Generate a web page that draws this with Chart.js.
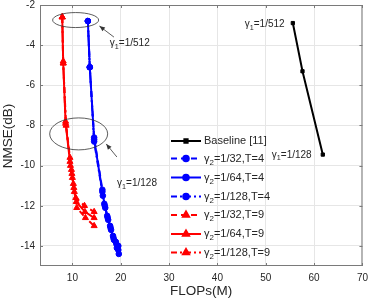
<!DOCTYPE html>
<html>
<head>
<meta charset="utf-8">
<script src="https://cdn.jsdelivr.net/npm/chart.js@4.4.1/dist/chart.umd.min.js"></script>
<style>
  html, body { margin: 0; padding: 0; background: #fff; }
  #wrap { width: 374px; height: 301px; position: relative; }
</style>
</head>
<body>
<div id="wrap"><canvas id="myChart"></canvas></div>
<script>
const FONT = '"Liberation Sans", Arial, sans-serif';
const TEXT = '#262626';

const xTicks = [10, 20, 30, 40, 50, 60, 70];
const yTicks = [-14, -12, -10, -8, -6, -4, -2];

const baselineFlops = [55.6, 57.6, 61.8];
const baselineNmse = [-2.9, -5.3, -9.45];

const t4g32Flops = [13.2, 13.6, 14.5, 16.2, 16.6, 17.2, 17.8, 18.4, 19.0, 19.5];
const t4g32Nmse = [-2.8, -5.1, -8.6, -11.2, -11.9, -12.5, -13.0, -13.5, -13.8, -14.0];
const t4g64Flops = [13.2, 13.6, 14.5, 16.2, 16.7, 17.3, 17.9, 18.5, 19.1, 19.5];
const t4g64Nmse = [-2.8, -5.1, -8.7, -11.3, -12.0, -12.6, -13.1, -13.6, -13.9, -14.2];
const t4g128Flops = [13.2, 13.6, 14.5, 16.3, 16.8, 17.4, 18.0, 18.6, 19.2, 19.6];
const t4g128Nmse = [-2.8, -5.1, -8.8, -11.5, -12.1, -12.7, -13.2, -13.7, -14.1, -14.4];

const t9g32Flops = [7.9, 8.1, 8.6, 9.5, 9.8, 10.2, 10.7, 12.5, 14.5];
const t9g32Nmse = [-2.6, -4.8, -7.8, -9.6, -10.2, -10.9, -11.6, -12.0, -12.3];
const t9g64Flops = [7.9, 8.1, 8.6, 9.5, 9.9, 10.3, 10.8, 12.6, 14.5];
const t9g64Nmse = [-2.6, -4.9, -7.9, -9.8, -10.4, -11.1, -11.8, -12.3, -12.6];
const t9g128Flops = [7.9, 8.1, 8.7, 9.6, 10.0, 10.4, 10.9, 12.7, 14.5];
const t9g128Nmse = [-2.6, -4.9, -8.0, -10.0, -10.6, -11.3, -12.1, -12.6, -13.0];

function points(xs, ys) {
  return xs.map((x, i) => ({ x, y: ys[i] }));
}

function series(label, sub, rest, xs, ys, color, dash, pointStyle, radius) {
  return {
    label,
    sub,
    rest,
    data: points(xs, ys),
    borderColor: color,
    backgroundColor: color,
    pointBackgroundColor: color,
    pointBorderColor: color,
    borderWidth: 2,
    borderDash: dash,
    pointStyle,
    pointRadius: radius,
    pointBorderWidth: 1,
    showLine: true,
    tension: 0,
  };
}

const datasets = [
  series('Baseline [11]', null, null, baselineFlops, baselineNmse, '#000000', [], 'rect', 2.3),
  series('g2=1/32,T=4', '2', '=1/32,T=4', t4g32Flops, t4g32Nmse, '#0000ff', [6, 4], 'circle', 2.8),
  series('g2=1/64,T=4', '2', '=1/64,T=4', t4g64Flops, t4g64Nmse, '#0000ff', [], 'circle', 2.8),
  series('g2=1/128,T=4', '2', '=1/128,T=4', t4g128Flops, t4g128Nmse, '#0000ff', [6, 3, 2, 3], 'circle', 2.8),
  series('g2=1/32,T=9', '2', '=1/32,T=9', t9g32Flops, t9g32Nmse, '#ff0000', [6, 4], 'triangle', 3.5),
  series('g2=1/64,T=9', '2', '=1/64,T=9', t9g64Flops, t9g64Nmse, '#ff0000', [], 'triangle', 3.5),
  series('g2=1/128,T=9', '2', '=1/128,T=9', t9g128Flops, t9g128Nmse, '#ff0000', [6, 3, 2, 3], 'triangle', 3.5),
];

function gammaText(ctx, x, y, sub, rest, size, align) {
  const normal = `${size}px ${FONT}`;
  const small = `${size * 0.72}px ${FONT}`;
  ctx.font = normal;
  const wG = ctx.measureText('γ').width;
  const wR = ctx.measureText(rest).width;
  ctx.font = small;
  const wS = ctx.measureText(sub).width;
  const x0 = align === 'right' ? x - (wG + wS + wR) : x;
  ctx.textAlign = 'left';
  ctx.textBaseline = 'middle';
  ctx.font = normal;
  ctx.fillText('γ', x0, y);
  ctx.font = small;
  ctx.fillText(sub, x0 + wG, y + size * 0.35);
  ctx.font = normal;
  ctx.fillText(rest, x0 + wG + wS, y);
}

function arrow(ctx, x1, y1, x2, y2) {
  const a = Math.atan2(y2 - y1, x2 - x1);
  const h = 6;
  ctx.beginPath();
  ctx.moveTo(x1, y1);
  ctx.lineTo(x2, y2);
  ctx.stroke();
  ctx.beginPath();
  ctx.moveTo(x2, y2);
  ctx.lineTo(x2 - h * Math.cos(a - 0.4), y2 - h * Math.sin(a - 0.4));
  ctx.lineTo(x2 - h * Math.cos(a + 0.4), y2 - h * Math.sin(a + 0.4));
  ctx.closePath();
  ctx.fill();
}

const decorations = {
  id: 'decorations',
  afterDatasetsDraw(chart) {
    const { ctx, chartArea: area, scales: { x, y } } = chart;
    ctx.save();

    // annotation ellipses
    ctx.strokeStyle = '#333';
    ctx.fillStyle = '#333';
    ctx.lineWidth = 0.8;
    ctx.beginPath();
    ctx.ellipse(x.getPixelForValue(10.67), y.getPixelForValue(-2.75), 23, 7.5, 0, 0, Math.PI * 2);
    ctx.stroke();
    ctx.beginPath();
    ctx.ellipse(x.getPixelForValue(11.3), y.getPixelForValue(-8.42), 29, 16, 0, 0, Math.PI * 2);
    ctx.stroke();

    arrow(ctx, x.getPixelForValue(18.6), y.getPixelForValue(-3.6), x.getPixelForValue(15.6), y.getPixelForValue(-3.05));
    arrow(ctx, x.getPixelForValue(19.2), y.getPixelForValue(-9.57), x.getPixelForValue(17.0), y.getPixelForValue(-8.92));

    ctx.fillStyle = TEXT;
    gammaText(ctx, x.getPixelForValue(17.75), y.getPixelForValue(-3.9), '1', '=1/512', 10, 'left');
    gammaText(ctx, x.getPixelForValue(19.25), y.getPixelForValue(-10.87), '1', '=1/128', 10, 'left');
    gammaText(ctx, x.getPixelForValue(53.9), y.getPixelForValue(-2.95), '1', '=1/512', 10, 'right');
    gammaText(ctx, x.getPixelForValue(59.5), y.getPixelForValue(-9.47), '1', '=1/128', 10, 'right');

    // legend
    const lx0 = 171, lx1 = 201, tx = 204;
    const rows = [141, 158.5, 177.5, 196.5, 215, 234, 252.5];
    chart.data.datasets.forEach((ds, i) => {
      const ry = rows[i];
      ctx.strokeStyle = ds.borderColor;
      ctx.fillStyle = ds.borderColor;
      ctx.lineWidth = 2;
      ctx.setLineDash(ds.borderDash);
      ctx.beginPath();
      ctx.moveTo(lx0, ry);
      ctx.lineTo(lx1, ry);
      ctx.stroke();
      ctx.setLineDash([]);
      Chart.helpers.drawPoint(ctx, { pointStyle: ds.pointStyle, radius: ds.pointRadius, borderWidth: 1, rotation: 0 }, (lx0 + lx1) / 2, ry);
      ctx.fillStyle = TEXT;
      if (ds.sub) {
        gammaText(ctx, tx, ry, ds.sub, ds.rest, 11, 'left');
      } else {
        ctx.font = `11px ${FONT}`;
        ctx.textAlign = 'left';
        ctx.textBaseline = 'middle';
        ctx.fillText(ds.label, tx, ry);
      }
    });

    // axes box with inward ticks
    ctx.strokeStyle = '#7a7a7a';
    ctx.lineWidth = 1;
    ctx.strokeRect(area.left + 0.5, area.top + 0.5, area.right - area.left - 1, area.bottom - area.top - 1);
    ctx.beginPath();
    xTicks.forEach(v => {
      const px = Math.round(x.getPixelForValue(v)) + 0.5;
      ctx.moveTo(px, area.bottom);
      ctx.lineTo(px, area.bottom - 3);
      ctx.moveTo(px, area.top);
      ctx.lineTo(px, area.top + 3);
    });
    yTicks.forEach(v => {
      const py = Math.round(y.getPixelForValue(v)) + 0.5;
      ctx.moveTo(area.left, py);
      ctx.lineTo(area.left + 3, py);
      ctx.moveTo(area.right, py);
      ctx.lineTo(area.right - 3, py);
    });
    ctx.stroke();

    // axis titles
    ctx.fillStyle = TEXT;
    ctx.font = `13.5px ${FONT}`;
    ctx.textAlign = 'center';
    ctx.textBaseline = 'middle';
    ctx.fillText('FLOPs(M)', (area.left + area.right) / 2, 291);
    ctx.translate(8, 136);
    ctx.rotate(-Math.PI / 2);
    ctx.fillText('NMSE(dB)', 0, 0);
    ctx.restore();
  },
};

const myChart = document.querySelector('#myChart');

new Chart(myChart, {
  type: 'line',
  data: { datasets },
  options: {
    responsive: true,
    maintainAspectRatio: false,
    animation: false,
    devicePixelRatio: 1,
    layout: {
      padding: { top: 0, right: 7, left: 0, bottom: 0 },
    },
    scales: {
      x: {
        type: 'linear',
        min: 3.3,
        max: 70,
        afterBuildTicks: scale => { scale.ticks = xTicks.map(value => ({ value })); },
        afterFit: scale => { scale.height = 35; },
        grid: { color: '#e6e6e6', drawTicks: false },
        border: { display: false },
        ticks: {
          padding: 6,
          color: TEXT,
          font: { family: FONT, size: 10 },
          maxRotation: 0,
        },
      },
      y: {
        type: 'linear',
        min: -15,
        max: -2,
        afterBuildTicks: scale => { scale.ticks = yTicks.map(value => ({ value })); },
        afterFit: scale => { scale.width = 40; scale.paddingTop = 0; },
        grid: { color: '#e6e6e6', drawTicks: false },
        border: { display: false },
        ticks: {
          padding: 5,
          color: TEXT,
          font: { family: FONT, size: 10 },
        },
      },
    },
    plugins: {
      legend: { display: false },
      tooltip: { enabled: false },
    },
  },
  plugins: [decorations],
});
</script>
</body>
</html>
